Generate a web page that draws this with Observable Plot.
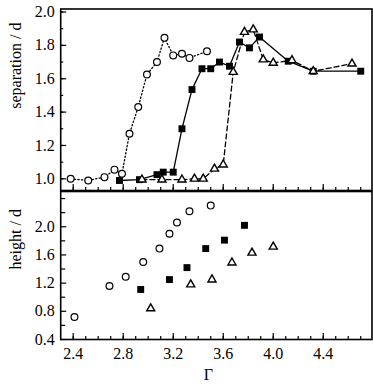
<!DOCTYPE html>
<html><head><meta charset="utf-8">
<script src="https://cdn.jsdelivr.net/npm/d3@7"></script>
<script src="https://cdn.jsdelivr.net/npm/@observablehq/plot@0.6"></script>
<style>body{margin:0;background:#fff} #c svg{display:block}</style>
</head><body><div id="c"></div>
<script>
// ---- top panel: separation / d vs Gamma ----
const circGamma = [2.38,2.52,2.65,2.73,2.79,2.85,2.92,2.99,3.07,3.13,3.20,3.27,3.33,3.47];
const circSep   = [1.00,0.99,1.01,1.055,1.03,1.27,1.43,1.625,1.70,1.845,1.74,1.75,1.725,1.765];
const sqGamma = [2.77,2.93,3.07,3.12,3.20,3.27,3.35,3.43,3.50,3.57,3.65,3.73,3.81,3.89,4.12,4.32,4.70];
const sqSep   = [0.99,0.995,1.025,1.04,1.04,1.30,1.535,1.66,1.66,1.70,1.675,1.82,1.785,1.85,1.705,1.645,1.645];
const triGamma = [2.95,3.11,3.27,3.37,3.44,3.53,3.60,3.68,3.77,3.84,3.92,4.00,4.15,4.32,4.63];
const triSep   = [0.995,0.995,0.995,1.0,1.0,1.06,1.085,1.64,1.88,1.895,1.715,1.695,1.71,1.645,1.69];

// ---- bottom panel: height / d vs Gamma ----
const hCircGamma = [2.41,2.69,2.82,2.96,3.09,3.17,3.23,3.33,3.50];
const hCircH     = [0.72,1.16,1.29,1.50,1.69,1.90,2.06,2.22,2.30];
const hSqGamma = [2.94,3.17,3.31,3.46,3.61,3.77];
const hSqH     = [1.11,1.25,1.42,1.69,1.81,2.02];
const hTriGamma = [3.02,3.34,3.51,3.67,3.83,4.00];
const hTriH     = [0.84,1.18,1.25,1.49,1.63,1.715];

// ---- ticks ----
const xMajor = [2.4,2.8,3.2,3.6,4.0,4.4];
const xMinor = d3.range(24, 48).map(v => v / 10);
const sepMajor = [1.0,1.2,1.4,1.6,1.8,2.0];
const sepMinor = d3.range(10, 21).map(v => v / 10);
const hMajor = [0.4,0.8,1.2,1.6,2.0];
const hMinor = [0.6,1.0,1.4,1.8,2.2,2.4];

const zip = (a, b) => a.map((x, i) => ({x, y: b[i]}));

const W = 373, mL = 60.2, mR = 1.5;
const innerW = W - mL - mR;
const xDomain = [2.3, 4.79];
const style = {fontFamily: "'Liberation Serif', 'Times New Roman', serif", fontSize: "16px", background: "white", color: "black", overflow: "visible"};
const fmt = d3.format(".1f");

function seriesMarks(circ, sq, tri, withLines) {
  const lines = [
    Plot.line(sq, {x: "x", y: "y", stroke: "black", strokeWidth: 1.3}),
    Plot.line(tri, {x: "x", y: "y", stroke: "black", strokeWidth: 1.3, strokeDasharray: "5,3"}),
    Plot.line(circ, {x: "x", y: "y", stroke: "black", strokeWidth: 1.3, strokeDasharray: "1.3,2.3"})
  ];
  const dots = [
    Plot.dot(sq, {x: "x", y: "y", symbol: "square", r: 3.9, fill: "black", stroke: "none"}),
    Plot.dot(tri, {x: "x", y: "y", symbol: "triangle", r: 3.0, fill: "white", stroke: "black", strokeWidth: 1.4}),
    Plot.dot(circ, {x: "x", y: "y", r: 3.4, fill: "white", stroke: "black", strokeWidth: 1.2})
  ];
  return withLines ? [...lines, ...dots] : dots;
}

// top
const topH = 191, topMT = 8.5, topMB = 1;
const topInner = topH - topMT - topMB;
const topPlot = Plot.plot({
  width: W, height: topH, marginLeft: mL, marginRight: mR, marginTop: topMT, marginBottom: topMB,
  style,
  x: {domain: xDomain, axis: null},
  y: {domain: [0.93, 2.018], axis: null},
  marks: [
    Plot.tickX(xMinor, {x: d => d, insetTop: topInner - 3, stroke: "black", strokeWidth: 1.2}),
    Plot.tickX(xMajor, {x: d => d, insetTop: topInner - 6, stroke: "black", strokeWidth: 1.2}),
    Plot.tickY(sepMinor, {y: d => d, insetRight: innerW - 3, stroke: "black", strokeWidth: 1.2}),
    Plot.tickY(sepMajor, {y: d => d, insetRight: innerW - 6, stroke: "black", strokeWidth: 1.2}),
    Plot.axisY({ticks: sepMajor, tickSize: 0, tickPadding: 6, tickFormat: fmt, label: null, fontSize: 16}),
    Plot.text(["separation / d"], {frameAnchor: "left", dx: -45, dy: 9, rotate: -90, fontSize: 16}),
    ...seriesMarks(zip(circGamma, circSep), zip(sqGamma, sqSep), zip(triGamma, triSep), true),
    Plot.frame({stroke: "black", strokeWidth: 1.6})
  ]
});

// bottom
const botH = 196, botMT = 0, botMB = 48;
const botInner = botH - botMT - botMB;
const botPlot = Plot.plot({
  width: W, height: botH, marginLeft: mL, marginRight: mR, marginTop: botMT, marginBottom: botMB,
  style,
  x: {domain: xDomain, axis: null},
  y: {domain: [0.4, 2.5], axis: null},
  marks: [
    Plot.tickX(xMinor, {x: d => d, insetTop: botInner - 3, stroke: "black", strokeWidth: 1.2}),
    Plot.tickX(xMajor, {x: d => d, insetTop: botInner - 6, stroke: "black", strokeWidth: 1.2}),
    Plot.tickY(hMinor, {y: d => d, insetRight: innerW - 5, stroke: "black", strokeWidth: 1.2}),
    Plot.tickY(hMajor, {y: d => d, insetRight: innerW - 6, stroke: "black", strokeWidth: 1.2}),
    Plot.axisY({ticks: hMajor, tickSize: 0, tickPadding: 6, tickFormat: fmt, label: null, fontSize: 16}),
    Plot.axisX({ticks: xMajor, tickSize: 0, tickPadding: 8, tickFormat: fmt, label: null, fontSize: 16}),
    Plot.text(["height / d"], {frameAnchor: "left", dx: -45, dy: 4, rotate: -90, fontSize: 16}),
    Plot.text(["Γ"], {frameAnchor: "bottom", dx: -8, dy: 40, fontSize: 16}),
    ...seriesMarks(zip(hCircGamma, hCircH), zip(hSqGamma, hSqH), zip(hTriGamma, hTriH), false),
    Plot.frame({stroke: "black", strokeWidth: 1.6})
  ]
});

const c = document.getElementById("c");
c.append(topPlot, botPlot);
</script>
</body></html>
